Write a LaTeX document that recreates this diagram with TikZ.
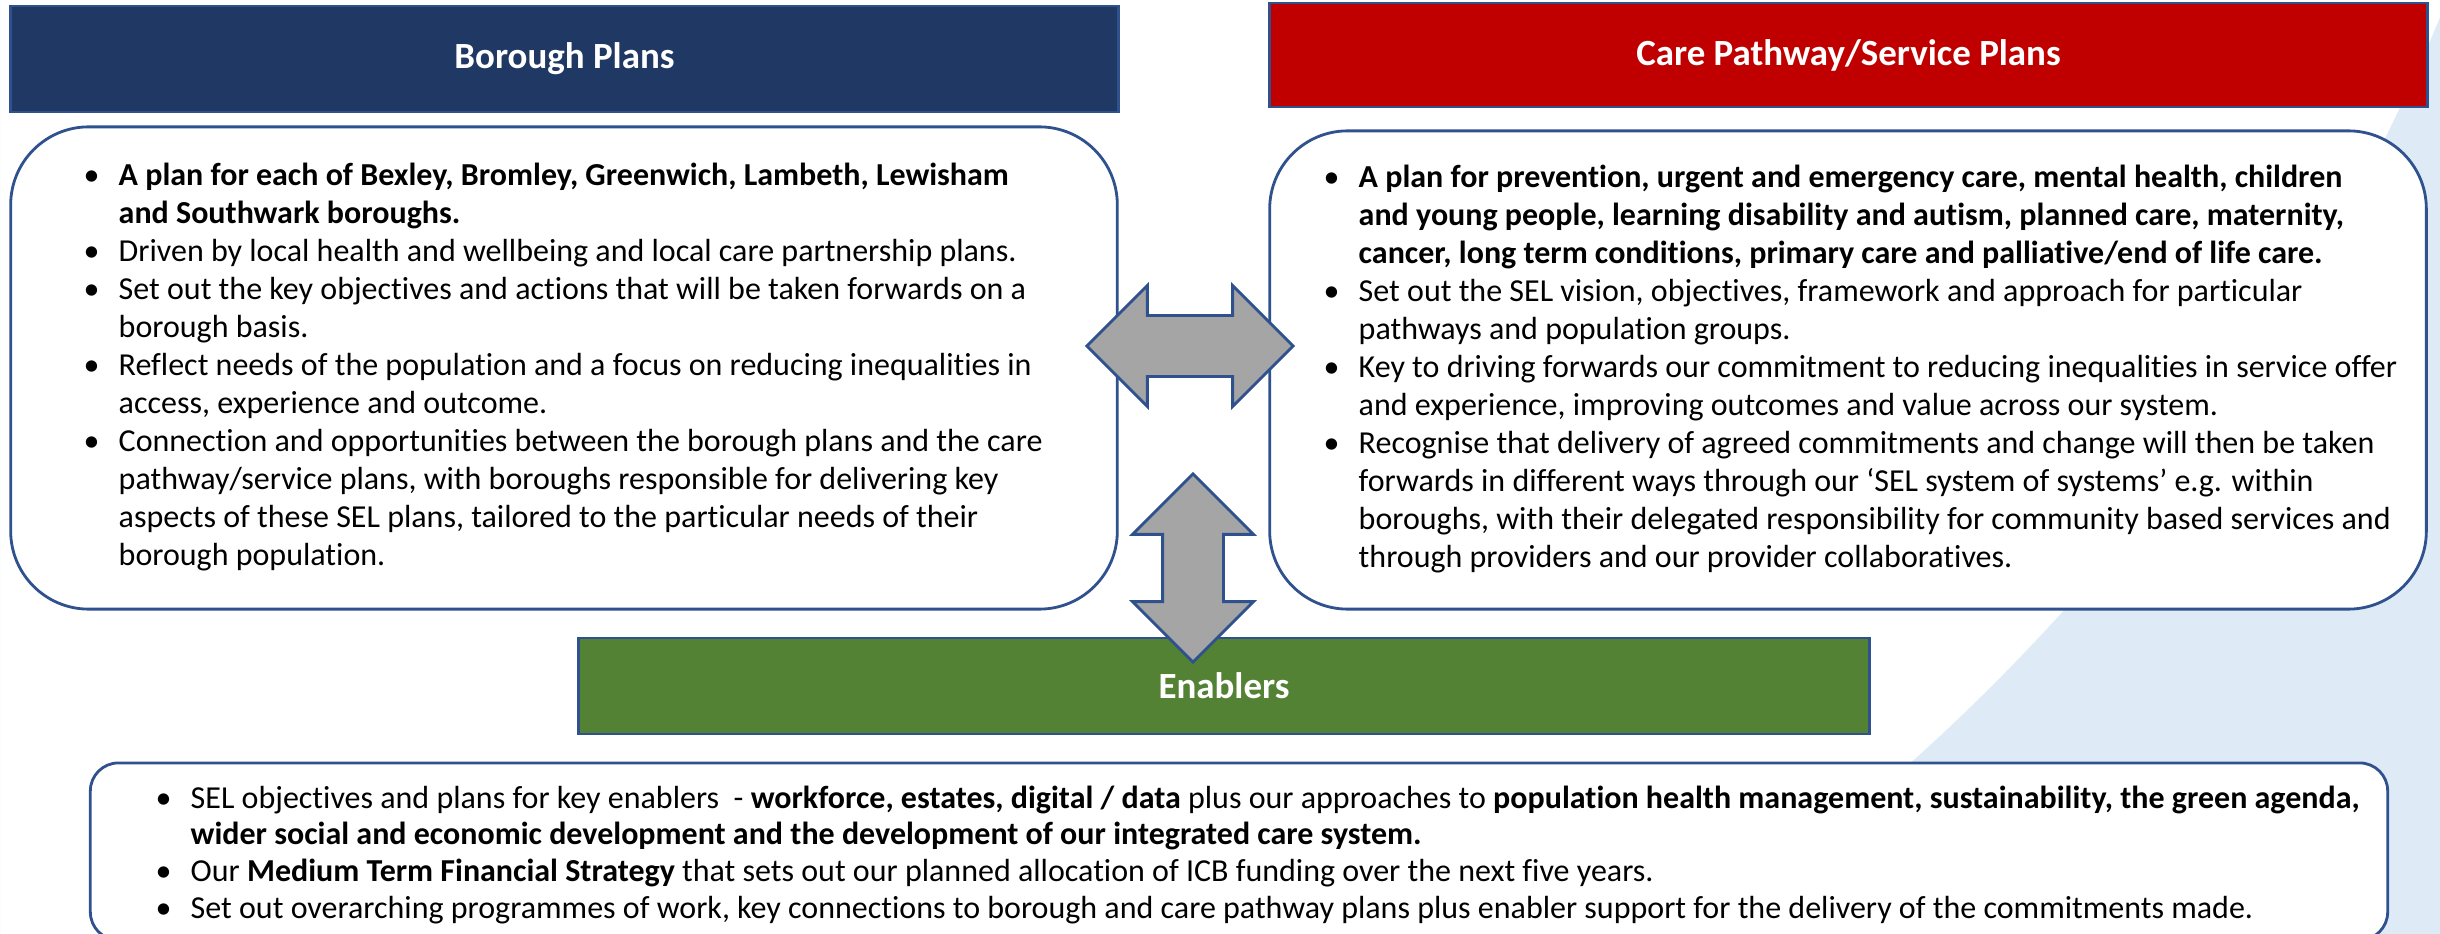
\documentclass[tikz,border=0pt]{standalone}
\usepackage{fontspec}
\setmainfont[Ligatures={TeX,NoCommon}]{Carlito}
\usepackage{xcolor}
\usetikzlibrary{calc, positioning, shapes.arrows}

\definecolor{selnavy}{HTML}{203864}
\definecolor{selred}{HTML}{C00000}
\definecolor{selgreen}{HTML}{548235}
\definecolor{seledge}{HTML}{2F528F}
\definecolor{selsky}{HTML}{DEEBF7}
\definecolor{selgrey}{HTML}{A5A5A5}

\newcommand{\selbul}{\makebox[0.35cm][l]{•}}

\begin{document}
\begin{tikzpicture}[x=0.01cm,y=-0.01cm,
    head box/.style={rectangle,draw=seledge,line width=0.7pt,text=white,inner sep=0pt,
                     font=\fontsize{10.5pt}{12.5pt}\selectfont\bfseries},
    plan box/.style={rectangle,rounded corners=0.78cm,draw=seledge,line width=0.8pt,fill=white,inner sep=0pt},
    plan text/.style={anchor=west,inner sep=0pt,font=\fontsize{9.1pt}{10.8pt}\selectfont},
    link arrow/.style={double arrow,draw=seledge,line width=0.8pt,fill=selgrey,inner sep=0.29cm,
                       double arrow tip angle=90,double arrow head indent=0pt,
                       double arrow head extend=0.30cm,minimum width=1.18cm}]

  \useasboundingbox (0,0) rectangle (2440,934);

  % light blue sweep on the right
  \fill[selsky,even odd rule] (0,0) rectangle (2440,934) (534,-774) circle[radius=20.62cm];

  \node[head box,fill=selnavy,minimum width=11.07cm,minimum height=1.06cm] (BHead) at (564.5,59) {Borough Plans};
  \node[head box,fill=selred,minimum width=11.57cm,minimum height=1.04cm] (CHead) at (1848.5,55) {Care Pathway/Service Plans};

  \node[plan box,minimum width=11.06cm,minimum height=4.82cm] (BBox) at (564,368) {};
  \node[plan box,minimum width=11.56cm,minimum height=4.78cm] (CBox) at (1848,370) {};

  \node[head box,fill=selgreen,minimum width=12.90cm,minimum height=0.96cm] (EHead) at (1224,686) {Enablers};
  \node[plan box,rounded corners=0.28cm,minimum width=22.96cm,minimum height=1.77cm] (EBox) at (1239,851.5) {};

  \node[plan text] (BText) at (83,368) {\begin{tabular}{@{}l@{}l@{}}
    \selbul & \textbf{A plan for each of Bexley, Bromley, Greenwich, Lambeth, Lewisham}\\
            & \textbf{and Southwark boroughs.}\\
    \selbul & Driven by local health and wellbeing and local care partnership plans.\\
    \selbul & Set out the key objectives and actions that will be taken forwards on a\\
            & borough basis.\\
    \selbul & Reflect needs of the population and a focus on reducing inequalities in\\
            & access, experience and outcome.\\
    \selbul & Connection and opportunities between the borough plans and the care\\
            & pathway/service plans, with boroughs responsible for delivering key\\
            & aspects of these SEL plans, tailored to the particular needs of their\\
            & borough population.
  \end{tabular}};

  \node[plan text] (CText) at (1323,370) {\begin{tabular}{@{}l@{}l@{}}
    \selbul & \textbf{A plan for prevention, urgent and emergency care, mental health, children}\\
            & \textbf{and young people, learning disability and autism, planned care, maternity,}\\
            & \textbf{cancer, long term conditions, primary care and palliative/end of life care.}\\
    \selbul & Set out the SEL vision, objectives, framework and approach for particular\\
            & pathways and population groups.\\
    \selbul & Key to driving forwards our commitment to reducing inequalities in service offer\\
            & and experience, improving outcomes and value across our system.\\
    \selbul & Recognise that delivery of agreed commitments and change will then be taken\\
            & forwards in different ways through our ‘SEL system of systems’ e.g. within\\
            & boroughs, with their delegated responsibility for community based services and\\
            & through providers and our provider collaboratives.
  \end{tabular}};

  \node[plan text,font=\fontsize{9.1pt}{10.5pt}\selectfont] (EText) at (155,856) {\begin{tabular}{@{}l@{}l@{}}
    \selbul & SEL objectives and plans for key enablers~ - \textbf{workforce, estates, digital / data} plus our approaches to \textbf{population health management, sustainability, the green agenda,}\\
            & \textbf{wider social and economic development and the development of our integrated care system.}\\
    \selbul & Our \textbf{Medium Term Financial Strategy} that sets out our planned allocation of ICB funding over the next five years.\\
    \selbul & Set out overarching programmes of work, key connections to borough and care pathway plans plus enabler support for the delivery of the commitments made.
  \end{tabular}};

  \node[link arrow,minimum height=2.06cm] (HArrow) at (1190,346) {};
  \node[link arrow,shape border rotate=90,minimum height=1.88cm] (VArrow) at (1193,568) {};

\end{tikzpicture}
\end{document}
